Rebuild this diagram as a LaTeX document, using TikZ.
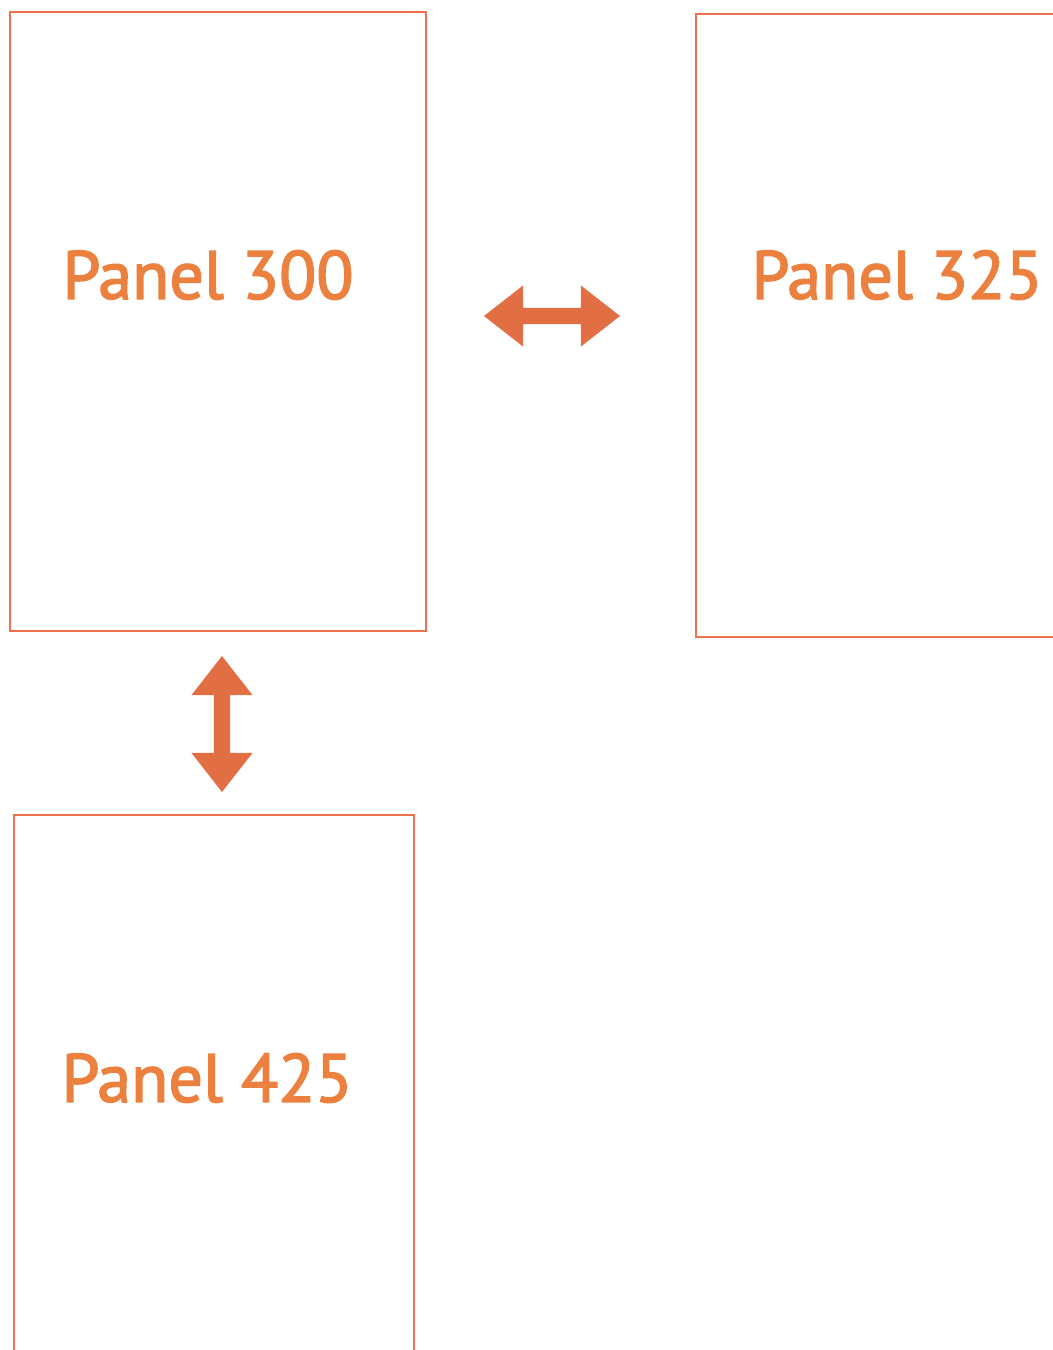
\documentclass[tikz,border=0pt]{standalone}
\usepackage{fontspec}
\setmainfont{PT Sans}
\newfontfamily\panelfont{PT Sans}[FakeBold=2.2]
\usetikzlibrary{positioning, shapes.arrows}
\definecolor{panelline}{RGB}{238,112,78}
\definecolor{paneltext}{RGB}{236,128,62}
\definecolor{arrowfill}{RGB}{226,110,68}
\tikzset{
  panel/.style={draw=panelline, line width=1.1pt, inner sep=0pt},
  panellabel/.style={text=paneltext, font=\panelfont\fontsize{38.8}{46}\selectfont, inner sep=0pt},
  bigarrow/.style={double arrow, fill=arrowfill, inner xsep=0pt, inner ysep=0.155cm,
    minimum height=2.72cm, double arrow head extend=0.45cm, double arrow tip angle=76}
}
\begin{document}
\begin{tikzpicture}[x=0.02cm, y=-0.02cm]
\useasboundingbox (0,0) rectangle (1053,1350);
% panels
\node[panel, minimum width=8.32cm, minimum height=12.38cm] (p300) at (218,321.5) {};
\node[panel, minimum width=7.5cm, minimum height=12.46cm] (p325) at (883.5,325.5) {};
\node[panel, minimum width=8cm, minimum height=11.7cm] (p425) at (214,1107.5) {};
% labels
\node[panellabel] (l300) at (208,275) {Panel 300};
\node[panellabel] (l325) at (897,275) {Panel 325};
\node[panellabel] (l425) at (207,1078) {Panel 425};
% arrows between panels
\node[bigarrow] (a300325) at (552,316) {};
\node[bigarrow, rotate=90] (a300425) at (222,724) {};
\end{tikzpicture}
\end{document}
